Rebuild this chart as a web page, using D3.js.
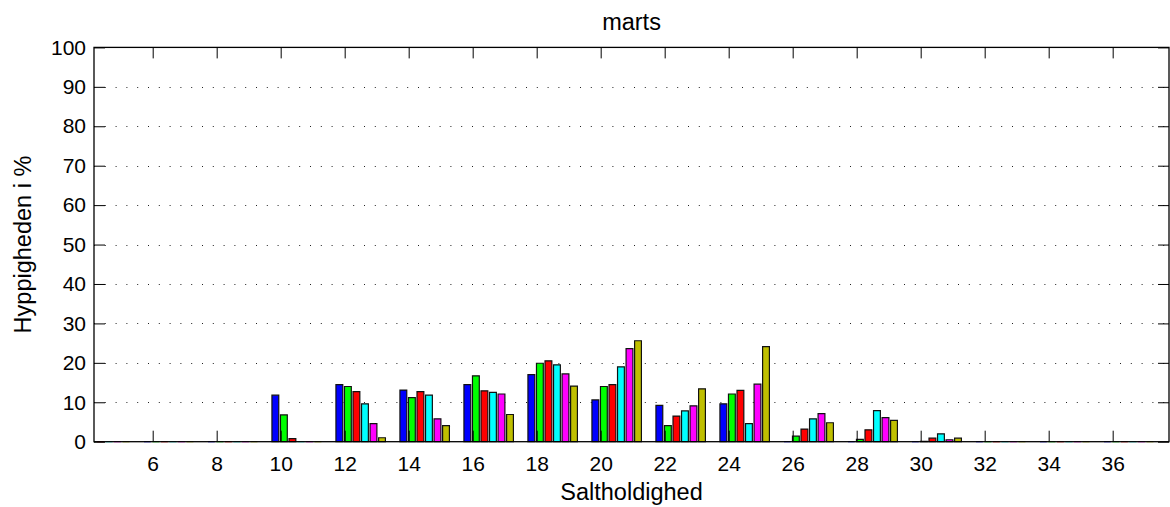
<!DOCTYPE html>
<html>
<head>
<meta charset="utf-8">
<script src="https://cdn.jsdelivr.net/npm/d3@7/dist/d3.min.js"></script>
<style>
  html, body { margin: 0; padding: 0; background: #fff; }
  svg { display: block; }
  text { font-family: "Liberation Sans", Arial, Helvetica, sans-serif; fill: #000; }
</style>
</head>
<body>
<svg id="chart" width="1170" height="507"></svg>
<script>
// ---- data ----
const titleText = "marts";
const xLabelText = "Saltholdighed";
const yLabelText = "Hyppigheden i %";

// salinity bin centres (groups of bars)
const binCenters = [4.5, 6.5, 8.5, 10.5, 12.5, 14.5, 16.5, 18.5, 20.5, 22.5, 24.5, 26.5, 28.5, 30.5, 32.5, 34.5, 36.5];

const seriesNames = ["serie 1", "serie 2", "serie 3", "serie 4", "serie 5", "serie 6"];
const seriesColors = ["#0000ff", "#00ff00", "#ff0000", "#00ffff", "#ff00ff", "#bfbf00"];

const series1 = [0, 0, 0, 11.8, 14.5, 13.1, 14.5, 17.0, 10.6, 9.2, 9.6, 0, 0, 0, 0, 0, 0];
const series2 = [0, 0, 0, 6.8, 14.0, 11.2, 16.7, 19.9, 14.0, 4.1, 12.1, 1.4, 0.6, 0.1, 0, 0, 0];
const series3 = [0, 0, 0, 0.8, 12.7, 12.7, 12.9, 20.5, 14.5, 6.5, 13.0, 3.2, 3.0, 0.9, 0, 0, 0];
const series4 = [0, 0, 0, 0, 9.6, 11.8, 12.5, 19.5, 19.0, 7.8, 4.6, 5.8, 7.9, 2.0, 0, 0, 0];
const series5 = [0, 0, 0, 0, 4.6, 5.8, 12.1, 17.2, 23.6, 9.1, 14.6, 7.1, 6.1, 0.5, 0, 0, 0];
const series6 = [0, 0, 0, 0, 1.0, 4.1, 6.9, 14.1, 25.6, 13.4, 24.1, 4.8, 5.4, 0.9, 0, 0, 0];
const allSeries = [series1, series2, series3, series4, series5, series6];

const xTicks = [6, 8, 10, 12, 14, 16, 18, 20, 22, 24, 26, 28, 30, 32, 34, 36];
const yTicks = [0, 10, 20, 30, 40, 50, 60, 70, 80, 90, 100];
const xDomain = [4.166, 37.76];
const yDomain = [0, 100];

// ---- layout ----
const svg = d3.select("#chart");
const plot = { left: 94, right: 1169, top: 47.4, bottom: 441.7 };
const tickLen = 11;
const tickFont = "21px";
const labelFont = "23.5px";

const x = d3.scaleLinear().domain(xDomain).range([plot.left, plot.right]);
const y = d3.scaleLinear().domain(yDomain).range([plot.bottom, plot.top]);

// group geometry (MATLAB-style grouped bars)
const binSpacing = binCenters[1] - binCenters[0];
const groupWidth = 0.8 * binSpacing;
const slot = groupWidth / allSeries.length;
const barW = 0.8 * slot;

svg.append("defs").append("clipPath").attr("id", "clip")
  .append("rect")
  .attr("x", plot.left).attr("y", plot.top - 2)
  .attr("width", plot.right - plot.left).attr("height", plot.bottom - plot.top + 4);

// grid (horizontal dotted)
const grid = svg.append("g");
grid.selectAll("line").data(yTicks.filter(d => d > 0 && d < 100)).enter().append("line")
  .attr("x1", plot.left).attr("x2", plot.right)
  .attr("y1", d => Math.round(y(d)) + 0.5).attr("y2", d => Math.round(y(d)) + 0.5)
  .attr("stroke", "#222").attr("stroke-width", 1)
  .attr("stroke-dasharray", "1,9.8");

// bars
const barsG = svg.append("g").attr("clip-path", "url(#clip)");
allSeries.forEach((vals, si) => {
  barsG.append("g").selectAll("path").data(vals.map((v, i) => ({ v, c: binCenters[i] })))
    .enter().append("path")
    .attr("d", d => {
      const x0 = x(d.c - groupWidth / 2 + (si + 0.5) * slot - barW / 2);
      const x1 = x(d.c - groupWidth / 2 + (si + 0.5) * slot + barW / 2);
      const y0 = y(0), y1 = y(d.v);
      return `M${x0},${y0}V${y1}H${x1}V${y0}Z`;
    })
    .attr("fill", seriesColors[si])
    .attr("stroke", d => d.v > 0 ? "#111" : seriesColors[si])
    .attr("stroke-width", 1.2);
});

// axes box
const axesG = svg.append("g");
const bottomAxis = d3.axisBottom(x).tickValues(xTicks).tickSizeInner(-tickLen).tickSizeOuter(0).tickPadding(14.5);
const topAxis = d3.axisTop(x).tickValues(xTicks).tickSizeInner(-tickLen).tickSizeOuter(0).tickFormat("");
const leftAxis = d3.axisLeft(y).tickValues(yTicks).tickSizeInner(-tickLen).tickSizeOuter(0).tickPadding(8);
const rightAxis = d3.axisRight(y).tickValues(yTicks).tickSizeInner(-tickLen).tickSizeOuter(0).tickFormat("");

function styleAxis(g) {
  g.select(".domain").remove();
  g.selectAll(".tick line").attr("stroke", "#000").attr("stroke-width", 1);
  g.selectAll(".tick text").style("font-size", tickFont).attr("fill", "#000")
    .attr("font-family", "Liberation Sans, Arial, sans-serif");
}
axesG.append("g").attr("transform", `translate(0,${plot.bottom})`).call(bottomAxis).call(styleAxis);
axesG.append("g").attr("transform", `translate(0,${plot.top})`).call(topAxis).call(styleAxis);
axesG.append("g").attr("transform", `translate(${plot.left},0)`).call(leftAxis).call(styleAxis);
axesG.append("g").attr("transform", `translate(${plot.right},0)`).call(rightAxis).call(styleAxis);

axesG.append("rect")
  .attr("x", plot.left).attr("y", plot.top)
  .attr("width", plot.right - plot.left).attr("height", plot.bottom - plot.top)
  .attr("fill", "none").attr("stroke", "#000").attr("stroke-width", 1.3);

// title & labels
const cx = (plot.left + plot.right) / 2;
svg.append("text").attr("x", cx).attr("y", 30).attr("text-anchor", "middle")
  .style("font-size", labelFont).text(titleText);
svg.append("text").attr("x", cx).attr("y", 500).attr("text-anchor", "middle")
  .style("font-size", labelFont).text(xLabelText);
svg.append("text")
  .attr("transform", `translate(30.5,${(plot.top + plot.bottom) / 2}) rotate(-90)`)
  .attr("text-anchor", "middle")
  .style("font-size", labelFont).text(yLabelText);
</script>
</body>
</html>
